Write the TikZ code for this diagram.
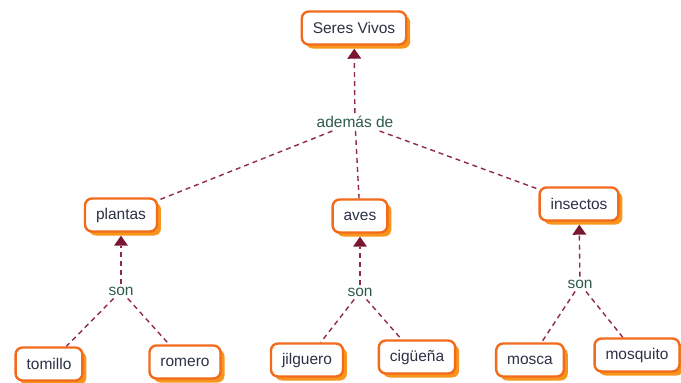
\documentclass[tikz,border=0pt]{standalone}
\usepackage{fontspec}
\setmainfont{Liberation Sans}
\usetikzlibrary{arrows.meta,shadows}
\definecolor{boxborder}{HTML}{F26A1B}
\definecolor{boxshadow}{HTML}{F8951D}
\definecolor{boxtext}{HTML}{2B3246}
\definecolor{linkcol}{HTML}{8E2B4A}
\definecolor{tipcol}{HTML}{7A1630}
\definecolor{labcol}{HTML}{2E5A4A}
\tikzset{
  concept/.style={draw=boxborder, line width=2.4pt, fill=white, rounded corners=7pt,
    text=boxtext, font=\fontsize{15.5}{18}\selectfont, minimum height=33pt,
    inner xsep=11pt, inner ysep=0pt,
    drop shadow={shadow xshift=4pt, shadow yshift=-4pt, fill=boxshadow, opacity=1}},
  linklab/.style={text=labcol, font=\fontsize{15.5}{18}\selectfont, inner sep=3pt},
  link/.style={draw=linkcol, line width=1.4pt, dash pattern=on 5pt off 4pt},
  linkarrow/.style={link, -{Triangle[width=14pt,length=10pt,fill=tipcol,line width=0pt]}, shorten >=3pt}
}
\begin{document}
\begin{tikzpicture}[x=1pt,y=-1pt]
\useasboundingbox (0,0) rectangle (681,383);
% concepts
\node[concept] (sv) at (354,28) {Seres Vivos};
\node[concept] (pl) at (121,215) {plantas};
\node[concept] (av) at (360,216) {aves};
\node[concept] (in) at (579,204) {insectos};
\node[concept] (to) at (49,364) {tomillo};
\node[concept] (ro) at (185,362) {romero};
\node[concept] (ji) at (307,360) {jilguero};
\node[concept] (ci) at (417,357) {cigüeña};
\node[concept] (mo) at (530,360) {mosca};
\node[concept] (mq) at (637,355) {mosquito};
% linking phrases
\node[linklab] (ad) at (355,122) {además de};
\node[linklab] (s1) at (121,291) {son};
\node[linklab] (s2) at (360,292) {son};
\node[linklab] (s3) at (580,284) {son};
% connectors
\draw[linkarrow] (ad) -- (sv);
\draw[link] (ad) -- (pl);
\draw[link] (ad) -- (av);
\draw[link] (ad) -- (in);
\draw[linkarrow] (s1) -- (pl);
\draw[link] (s1) -- (to);
\draw[link] (s1) -- (ro);
\draw[linkarrow] (s2) -- (av);
\draw[link] (s2) -- (ji);
\draw[link] (s2) -- (ci);
\draw[linkarrow] (s3) -- (in);
\draw[link] (s3) -- (mo);
\draw[link] (s3) -- (mq);
\end{tikzpicture}
\end{document}
